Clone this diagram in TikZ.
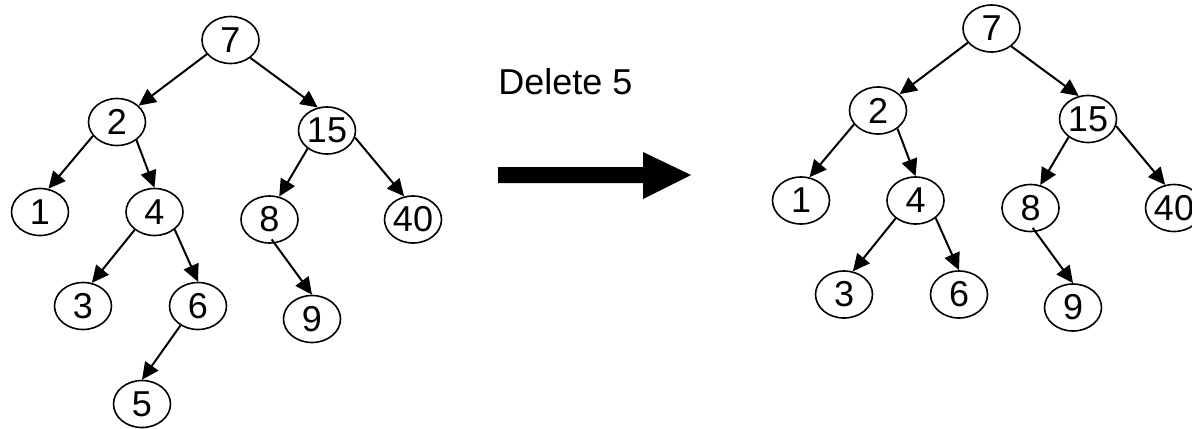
\documentclass[tikz,border=0pt]{standalone}
\usepackage{fontspec}
\setmainfont{Liberation Sans}
\usetikzlibrary{arrows.meta,shapes.geometric}
\begin{document}
\begin{tikzpicture}[x=0.5pt,y=-0.5pt,
  bst/.style={draw, ellipse, line width=0.8pt, minimum width=28.5pt, minimum height=23.5pt, inner sep=0pt, font=\fontsize{18}{21}\selectfont},
  edge/.style={line width=1pt, -{Triangle[length=8.5pt,width=8pt]}},
  lbl/.style={font=\fontsize{18}{21}\selectfont, inner sep=0pt, anchor=base west}]
\useasboundingbox (0,0) rectangle (1192,428);
% left tree
\node[bst] (a7)  at (230.5,40) {7};
\node[bst] (a2)  at (117,122) {2};
\node[bst] (a15) at (327,130.5) {15};
\node[bst] (a1)  at (40,212) {1};
\node[bst] (a4)  at (154.5,212) {4};
\node[bst] (a8)  at (269.5,219.5) {8};
\node[bst] (a40) at (413,219.5) {40};
\node[bst] (a3)  at (83,306) {3};
\node[bst] (a6)  at (198,306) {6};
\node[bst] (a9)  at (312,319) {9};
\node[bst] (a5)  at (142,404) {5};
\draw[edge] (a7.211) -- (a2.37);
\draw[edge] (a7.318) -- (a15.112);
\draw[edge] (a2.210) -- (a1.70);
\draw[edge] (a2.317) -- (a4.90);
\draw[edge] (a4.222) -- (a3.69);
\draw[edge] (a4.319) -- (a6.90);
\draw[edge] (a15.223) -- (a8.67);
\draw[edge] (a15.346) -- (a40.111);
\draw[edge, shorten <=-2.5pt] (a8.282) -- (a9.90);
\draw[edge] (a6.228) -- (a5.90);
% middle
\node[lbl] (del) at (498,94) {Delete 5};
\fill (498,167) -- (643,167) -- (643,152) -- (691,175) -- (643,199) -- (643,183) -- (498,183) -- cycle;
% right tree
\begin{scope}[shift={(761,-11.5)}]
\node[bst] (b7)  at (230.5,40) {7};
\node[bst] (b2)  at (117,122) {2};
\node[bst] (b15) at (327,130.5) {15};
\node[bst] (b1)  at (40,212) {1};
\node[bst] (b4)  at (154.5,212) {4};
\node[bst] (b8)  at (269.5,219.5) {8};
\node[bst] (b40) at (413,219.5) {40};
\node[bst] (b3)  at (83,306) {3};
\node[bst] (b6)  at (198,306) {6};
\node[bst] (b9)  at (312,319) {9};
\end{scope}
\draw[edge] (b7.211) -- (b2.37);
\draw[edge] (b7.318) -- (b15.112);
\draw[edge] (b2.210) -- (b1.70);
\draw[edge] (b2.317) -- (b4.90);
\draw[edge] (b4.222) -- (b3.69);
\draw[edge] (b4.319) -- (b6.90);
\draw[edge] (b15.223) -- (b8.67);
\draw[edge] (b15.346) -- (b40.111);
\draw[edge, shorten <=-2.5pt] (b8.282) -- (b9.90);
\end{tikzpicture}
\end{document}
